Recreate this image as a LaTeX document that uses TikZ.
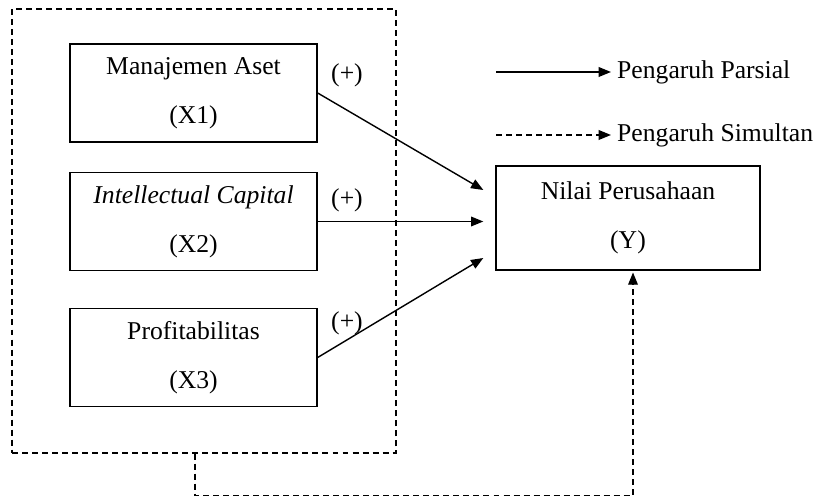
\documentclass[tikz,border=0pt]{standalone}
\usepackage{fontspec}
\setmainfont{Liberation Serif}
\usetikzlibrary{arrows.meta,positioning}

\begin{document}
\begin{tikzpicture}[x=0.02cm, y=-0.02cm,
  every node/.style = {font=\fontsize{14.6}{27.8}\selectfont},
  var/.style = {draw, line width=0.8pt, align=center, inner sep=0pt,
    minimum width=4.94cm, minimum height=1.96cm,
    execute at begin node=\rule{0pt}{14pt}},
  partial/.style = {line width=0.8pt, -{Triangle[length=7pt,width=5.5pt]}},
  simul/.style = {partial, dash pattern=on 3.4pt off 2.3pt}]
  \useasboundingbox (0,0) rectangle (818,499);
  % simultaneous group
  \node[draw, line width=0.8pt, dash pattern=on 3.4pt off 2.3pt,
    minimum width=7.68cm, minimum height=8.88cm] (grp) at (204,231) {};
  % variables
  \node[var] (x1) at (193.5,93) {Manajemen Aset\\(X1)};
  \node[var] (x2) at (193.5,221.5) {\textit{Intellectual Capital}\\(X2)};
  \node[var] (x3) at (193.5,357.5) {Profitabilitas\\(X3)};
  \node[var, minimum width=5.28cm, minimum height=2.08cm] (y)
    at (628,218) {Nilai Perusahaan\\(Y)};
  % signs
  \node (s1) at (347,75) {(+)};
  \node (s2) at (347,200) {(+)};
  \node (s3) at (347,323) {(+)};
  % partial effects
  \draw[partial] (x1.east) -- ([xshift=-0.24cm,yshift=0.56cm]y.west);
  \draw[partial] (x2.east) -- ([xshift=-0.24cm]y.west |- x2.east);
  \draw[partial] (x3.east) -- ([xshift=-0.24cm,yshift=-0.8cm]y.west);
  % simultaneous effect
  \draw[simul, shorten >=1pt] ([xshift=-0.18cm]grp.south) -- ++(0pt,-0.84cm)
    -| ([xshift=0.1cm]y.south);
  % legend
  \coordinate (lp) at (496,72);
  \coordinate (ls) at (496,135);
  \node[anchor=west] (lpar) at (611,72) {Pengaruh Parsial};
  \node[anchor=west] (lsim) at (611,135) {Pengaruh Simultan};
  \draw[partial] (lp) -- (lpar.west);
  \draw[simul] (ls) -- (lsim.west);
\end{tikzpicture}
\end{document}
